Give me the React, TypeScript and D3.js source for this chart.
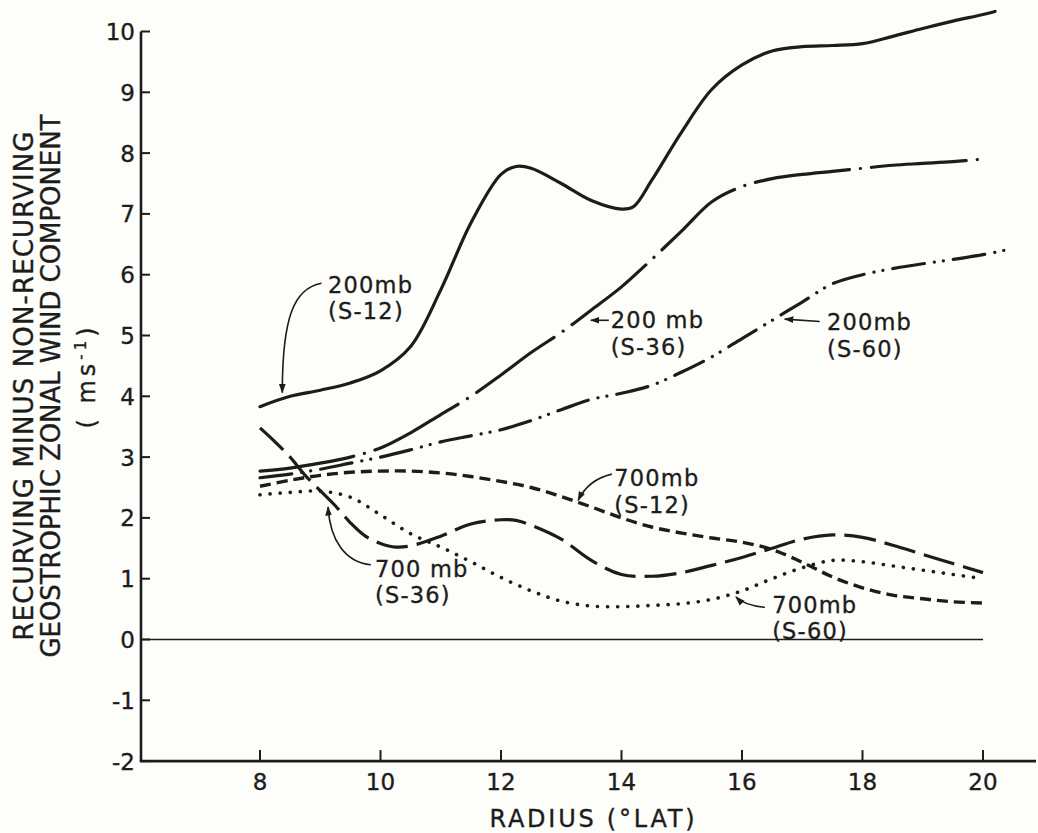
import React from 'react';
import * as d3 from 'd3';

const W = 1038;
const H = 833;

// tick values / labels
const xTicks = [8, 10, 12, 14, 16, 18, 20];
const yTicks = [10, 9, 8, 7, 6, 5, 4, 3, 2, 1, 0, -1, -2];

// 200 mb (S-12) solid
const r200s12 = [8, 8.5, 9, 9.5, 10, 10.5, 11, 11.5, 12, 12.25, 12.5, 13, 13.5, 14, 14.2, 14.5, 15, 15.5, 16, 16.5, 17, 17.5, 18, 18.5, 19, 19.5, 20, 20.2];
const v200s12 = [3.83, 4.0, 4.1, 4.22, 4.42, 4.82, 5.75, 6.85, 7.65, 7.78, 7.75, 7.5, 7.22, 7.08, 7.12, 7.55, 8.35, 9.05, 9.45, 9.68, 9.75, 9.77, 9.8, 9.92, 10.05, 10.17, 10.28, 10.33];

// 200 mb (S-36) dash-dot
const r200s36 = [8, 8.5, 9, 9.5, 10, 10.5, 11, 11.5, 12, 12.5, 13, 13.5, 14, 14.5, 15, 15.5, 16, 16.5, 17, 17.5, 18, 18.5, 19, 19.5, 20];
const v200s36 = [2.77, 2.82, 2.9, 3.0, 3.15, 3.4, 3.7, 4.0, 4.35, 4.72, 5.05, 5.42, 5.8, 6.25, 6.72, 7.2, 7.45, 7.58, 7.65, 7.7, 7.75, 7.8, 7.83, 7.86, 7.9];

// 200 mb (S-60) dash-dot-dot
const r200s60 = [8, 8.5, 9, 9.5, 10, 10.5, 11, 11.5, 12, 12.5, 13, 13.5, 14, 14.5, 15, 15.5, 16, 16.5, 17, 17.5, 18, 18.5, 19, 19.5, 20, 20.35];
const v200s60 = [2.66, 2.72, 2.8, 2.9, 3.0, 3.12, 3.25, 3.35, 3.45, 3.6, 3.78, 3.95, 4.05, 4.18, 4.4, 4.65, 4.95, 5.25, 5.55, 5.85, 6.0, 6.1, 6.18, 6.25, 6.33, 6.4];

// 700 mb (S-12) short dashes
const r700s12 = [8, 8.5, 9, 9.5, 10, 10.5, 11, 11.5, 12, 12.5, 13, 13.5, 14, 14.5, 15, 15.5, 16, 16.5, 17, 17.5, 18, 18.5, 19, 19.5, 20];
const v700s12 = [2.52, 2.62, 2.7, 2.75, 2.77, 2.77, 2.74, 2.68, 2.6, 2.5, 2.35, 2.18, 2.0, 1.85, 1.75, 1.67, 1.6, 1.48, 1.27, 1.03, 0.85, 0.73, 0.67, 0.62, 0.6];

// 700 mb (S-36) long dashes
const r700s36 = [8, 8.25, 8.5, 8.75, 9, 9.25, 9.5, 9.75, 10, 10.25, 10.5, 11, 11.5, 12, 12.25, 12.5, 13, 13.5, 14, 14.5, 15, 15.5, 16, 16.5, 17, 17.5, 18, 18.5, 19, 19.5, 20];
const v700s36 = [3.48, 3.25, 3.0, 2.7, 2.45, 2.2, 1.92, 1.7, 1.58, 1.52, 1.54, 1.7, 1.9, 1.97, 1.96, 1.88, 1.65, 1.3, 1.07, 1.04, 1.1, 1.22, 1.35, 1.5, 1.65, 1.72, 1.68, 1.55, 1.4, 1.25, 1.1];

// 700 mb (S-60) dotted
const r700s60 = [8, 8.5, 9, 9.5, 10, 10.5, 11, 11.5, 12, 12.5, 13, 13.5, 14, 14.5, 15, 15.5, 16, 16.5, 17, 17.5, 18, 18.5, 19, 19.5, 20];
const v700s60 = [2.38, 2.42, 2.44, 2.34, 2.05, 1.74, 1.52, 1.28, 1.02, 0.8, 0.63, 0.55, 0.54, 0.56, 0.59, 0.66, 0.8, 1.0, 1.18, 1.3, 1.28, 1.21, 1.14, 1.07, 1.0];

// annotation texts
const labelLevels = ['200mb', '200 mb', '200mb', '700mb', '700 mb', '700mb'];
const labelSeries = ['(S-12)', '(S-36)', '(S-60)', '(S-12)', '(S-36)', '(S-60)'];

const ink = '#1c1c1c';
const font = "'DejaVu Sans', 'Liberation Sans', sans-serif";

export default function App() {
  const x = d3.scaleLinear().domain([8, 20]).range([260, 983]);
  const y = d3.scaleLinear().domain([0, 10]).range([639.5, 31.5]);

  const line = d3
    .line<[number, number]>()
    .x((d) => x(d[0]))
    .y((d) => y(d[1]))
    .curve(d3.curveCatmullRom.alpha(0.5));

  const zip = (r: number[], v: number[]) => r.map((rr, i) => [rr, v[i]] as [number, number]);

  const series = [
    { d: zip(r200s12, v200s12), dash: undefined, cap: 'round', w: 3.2 },
    { d: zip(r200s36, v200s36), dash: '95 11 0.1 11', cap: 'round', w: 3.2 },
    { d: zip(r200s60, v200s60), dash: '32 10 0.1 9 0.1 10', cap: 'round', w: 3.2 },
    { d: zip(r700s12, v700s12), dash: '11 6', cap: 'butt', w: 3.4 },
    { d: zip(r700s36, v700s36), dash: '32 9', cap: 'butt', w: 3.2 },
    { d: zip(r700s60, v700s60), dash: '0.1 10', cap: 'round', w: 3.6 },
  ];

  const xLeft = 141;
  const yTop = y(10);
  const yBot = y(-2);

  // label anchor positions (first line baseline), in data units
  const labelPos = [
    { r: 9.13, v: 5.7 },
    { r: 13.82, v: 5.12 },
    { r: 17.41, v: 5.09 },
    { r: 13.88, v: 2.52 },
    { r: 9.91, v: 1.03 },
    { r: 16.5, v: 0.44 },
  ];

  const P = (r: number, v: number) => `${x(r)},${y(v)}`;
  const arrows = [
    `M${P(9.02, 5.86)} C${P(8.58, 5.78)} ${P(8.37, 5.34)} ${P(8.37, 4.06)}`,
    `M${P(13.79, 5.25)} L${P(13.49, 5.25)}`,
    `M${P(17.29, 5.23)} L${P(16.71, 5.27)}`,
    `M${P(13.84, 2.72)} C${P(13.58, 2.66)} ${P(13.39, 2.51)} ${P(13.28, 2.29)}`,
    `M${P(9.84, 1.23)} C${P(9.41, 1.27)} ${P(9.16, 1.64)} ${P(9.13, 2.18)}`,
    `M${P(16.38, 0.53)} C${P(16.17, 0.55)} ${P(16.0, 0.6)} ${P(15.9, 0.7)}`,
  ];

  const textStyle = { stroke: ink, strokeWidth: 0.35 } as const;

  return (
    <svg
      width={W}
      height={H}
      style={{ position: 'absolute', left: 0, top: 0, background: '#fdfdf9' }}
    >
      <defs>
        <marker
          id="ah"
          viewBox="0 0 10 10"
          refX="9"
          refY="5"
          markerWidth="6"
          markerHeight="6"
          orient="auto"
          markerUnits="strokeWidth"
        >
          <path d="M0,1.5 L10,5 L0,8.5 Z" fill={ink} />
        </marker>
      </defs>
      <rect x={0} y={0} width={W} height={H} fill="#fdfdf9" />

      {/* axes */}
      <line x1={xLeft} x2={xLeft} y1={yTop} y2={yBot} stroke={ink} strokeWidth={2.6} />
      <line x1={xLeft - 1.3} x2={1036} y1={yBot} y2={yBot} stroke={ink} strokeWidth={2.6} />
      <line x1={xLeft} x2={x(20)} y1={y(0)} y2={y(0)} stroke={ink} strokeWidth={1.5} />

      {yTicks.map((t) => (
        <g key={'y' + t}>
          <line x1={xLeft} x2={xLeft + 9} y1={y(t)} y2={y(t)} stroke={ink} strokeWidth={2} />
          <text
            x={xLeft - 6}
            y={y(t) + 8.5}
            textAnchor="end"
            fontFamily={font}
            fontSize={23}
            fill={ink}
            style={textStyle}
          >
            {String(t)}
          </text>
        </g>
      ))}

      {xTicks.map((t) => (
        <g key={'x' + t}>
          <line x1={x(t)} x2={x(t)} y1={yBot} y2={yBot - 11} stroke={ink} strokeWidth={2} />
          <text
            x={x(t)}
            y={yBot + 29}
            textAnchor="middle"
            fontFamily={font}
            fontSize={23}
            fill={ink}
            style={textStyle}
          >
            {String(t)}
          </text>
        </g>
      ))}

      <text
        x={592}
        y={827}
        textAnchor="middle"
        fontFamily={font}
        fontSize={24}
        fill={ink}
        textLength={205}
        lengthAdjust="spacing"
        style={textStyle}
      >
        RADIUS (°LAT)
      </text>

      <text
        transform="translate(33,386) rotate(-90)"
        textAnchor="middle"
        fontFamily={font}
        fontSize={26}
        fill={ink}
        textLength={509}
        lengthAdjust="spacing"
        style={textStyle}
      >
        RECURVING MINUS NON-RECURVING
      </text>
      <text
        transform="translate(60,386) rotate(-90)"
        textAnchor="middle"
        fontFamily={font}
        fontSize={26}
        fill={ink}
        textLength={543}
        lengthAdjust="spacing"
        style={textStyle}
      >
        GEOSTROPHIC ZONAL WIND COMPONENT
      </text>
      <text
        transform="translate(95,376) rotate(-90)"
        textAnchor="middle"
        fontFamily={font}
        fontSize={24}
        letterSpacing={4}
        fill={ink}
        style={textStyle}
      >
        {'( ms'}
        <tspan dy={-9} fontSize={15}>
          -1
        </tspan>
        <tspan dy={9}>)</tspan>
      </text>

      {/* curves */}
      {series.map((s, i) => (
        <path
          key={'s' + i}
          d={line(s.d) || ''}
          fill="none"
          stroke={ink}
          strokeWidth={s.w}
          strokeDasharray={s.dash}
          strokeLinecap={s.cap as any}
          strokeLinejoin="round"
        />
      ))}

      {/* annotations */}
      {arrows.map((a, i) => (
        <path key={'a' + i} d={a} fill="none" stroke={ink} strokeWidth={1.6} markerEnd="url(#ah)" />
      ))}
      {labelPos.map((p, i) => (
        <g key={'l' + i}>
          <text
            x={x(p.r)}
            y={y(p.v)}
            fontFamily={font}
            fontSize={22.5}
            letterSpacing={1.2}
            fill={ink}
            style={textStyle}
          >
            {labelLevels[i]}
          </text>
          <text
            x={x(p.r)}
            y={y(p.v) + 26.5}
            fontFamily={font}
            fontSize={22.5}
            letterSpacing={1.2}
            fill={ink}
            style={textStyle}
          >
            {labelSeries[i]}
          </text>
        </g>
      ))}
    </svg>
  );
}
